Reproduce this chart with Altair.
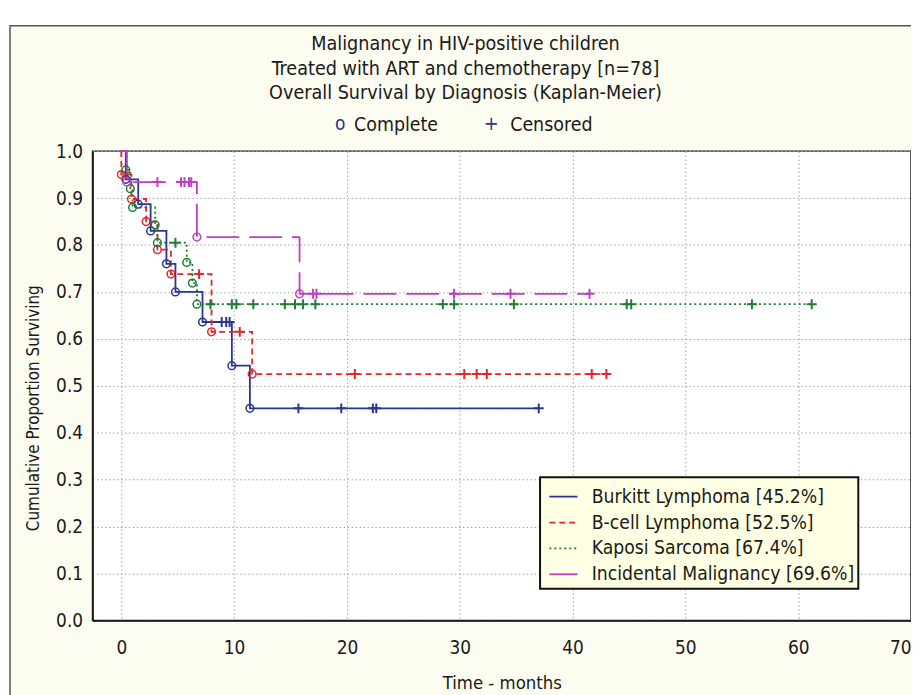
import altair as alt
import pandas as pd

# ---------------- data ----------------
series_names = ["Burkitt Lymphoma [45.2%]", "B-cell Lymphoma [52.5%]",
                "Kaposi Sarcoma [67.4%]", "Incidental Malignancy [69.6%]"]
series_colors = ["#2b3691", "#e3262b", "#1f7d33", "#c23ec0"]
series_dashes = [[1, 0], [6, 4], [2, 3], [33, 10]]

title_lines = ["Malignancy in HIV-positive children",
               "Treated with ART and chemotherapy [n=78]",
               "Overall Survival by Diagnosis (Kaplan-Meier)"]
key_labels = ["Complete", "Censored"]
key_symbols = ["o", "+"]

x_ticks = [0, 10, 20, 30, 40, 50, 60, 70]
y_ticks = [0.0, 0.1, 0.2, 0.3, 0.4, 0.5, 0.6, 0.7, 0.8, 0.9, 1.0]

burkitt_event_t = [0.4, 1.5, 2.6, 4.0, 4.8, 7.2, 9.8, 11.4]
burkitt_event_s = [0.94, 0.887, 0.83, 0.76, 0.70, 0.636, 0.543, 0.452]
burkitt_cens_t = [8.9, 9.3, 9.6, 15.7, 19.5, 22.3, 22.6, 37.0]

bcell_event_t = [0.0, 0.9, 2.2, 3.2, 4.4, 8.0, 11.6]
bcell_event_s = [0.95, 0.898, 0.85, 0.79, 0.738, 0.615, 0.525]
bcell_cens_t = [6.9, 10.5, 20.7, 30.4, 31.5, 32.4, 41.7, 43.0]

kaposi_event_t = [0.4, 0.8, 1.0, 3.0, 3.2, 5.8, 6.3, 6.7]
kaposi_event_s = [0.96, 0.92, 0.88, 0.843, 0.805, 0.763, 0.719, 0.674]
kaposi_cens_t = [4.8, 7.9, 9.8, 10.2, 11.7, 14.5, 15.4, 16.1, 17.2,
                 28.5, 29.5, 34.8, 44.8, 45.2, 55.9, 61.2]

incid_event_t = [0.5, 6.7, 15.8]
incid_event_s = [0.934, 0.817, 0.696]
incid_cens_t = [3.2, 5.3, 5.6, 6.0, 6.2, 17.0, 17.3, 29.5, 34.5, 41.5]

series_data = [
    (series_names[0], burkitt_event_t, burkitt_event_s, burkitt_cens_t),
    (series_names[1], bcell_event_t, bcell_event_s, bcell_cens_t),
    (series_names[2], kaposi_event_t, kaposi_event_s, kaposi_cens_t),
    (series_names[3], incid_event_t, incid_event_s, incid_cens_t),
]

line_rows, event_rows, cens_rows = [], [], []
for name, et, es, ct in series_data:
    pts = [(0.0, 1.0)] + list(zip(et, es))
    if max(ct) > et[-1]:
        pts.append((max(ct), es[-1]))
    for i, (t, s) in enumerate(pts):
        line_rows.append({"series": name, "t": t, "s": s, "idx": i})
    for t, s in zip(et, es):
        event_rows.append({"series": name, "t": t, "s": s})
    for c in ct:
        lvl = 1.0
        for t, s in zip(et, es):
            if t <= c:
                lvl = s
        cens_rows.append({"series": name, "t": c, "s": lvl})

lines_df = pd.DataFrame(line_rows)
events_df = pd.DataFrame(event_rows)
cens_df = pd.DataFrame(cens_rows)

# ---------------- styling ----------------
NARROW = "Liberation Sans Narrow, Arial Narrow, DejaVu Sans Condensed, Liberation Sans, sans-serif"
TXT = "#1a1a1a"
W, H = 823, 472

xs = alt.Scale(domain=[-2.55, 70], nice=False, zero=False)
ys = alt.Scale(domain=[0, 1], nice=False)
cs = alt.Scale(domain=series_names, range=series_colors)
ds = alt.Scale(domain=series_names, range=series_dashes)

x_enc = alt.X("t:Q", scale=xs, axis=alt.Axis(
    values=x_ticks, title="Time - months", grid=True, ticks=False,
    labelPadding=18, titlePadding=16, format="d", titleFontSize=18.5))
y_enc = alt.Y("s:Q", scale=ys, axis=alt.Axis(
    values=y_ticks, title="Cumulative Proportion Surviving", grid=True,
    ticks=False, labelPadding=10, titlePadding=13, format=".1f", titleFontSize=17,
    titleY=258))

lines = alt.Chart(lines_df).mark_line(interpolate="step-after", strokeWidth=1.8).encode(
    x=x_enc, y=y_enc,
    color=alt.Color("series:N", scale=cs, legend=alt.Legend(title=None)),
    strokeDash=alt.StrokeDash("series:N", scale=ds, legend=alt.Legend(title=None)),
    order="idx:Q",
)

circles = alt.Chart(events_df).mark_point(shape="circle", filled=False, size=60,
                                           strokeWidth=1.5, opacity=1).encode(
    x=x_enc, y=y_enc, color=alt.Color("series:N", scale=cs, legend=None))

pluses = alt.Chart(cens_df).mark_point(shape="M-1,0L1,0M0,-1L0,1", filled=False, size=100,
                                        strokeWidth=2, opacity=1).encode(
    x=x_enc, y=y_enc, color=alt.Color("series:N", scale=cs, legend=None))

one = pd.DataFrame({"a": [0]})
deco = []
# white margin strip above and left of the outer frame
deco.append(alt.Chart(one).mark_rect(color="white").encode(
    x=alt.value(-90), x2=alt.value(840), y=alt.value(-150), y2=alt.value(-126)))
deco.append(alt.Chart(one).mark_rect(color="white").encode(
    x=alt.value(-90), x2=alt.value(-83), y=alt.value(-150), y2=alt.value(720)))
# outer frame
deco.append(alt.Chart(one).mark_rect(filled=False, stroke="#555555", strokeWidth=1.5).encode(
    x=alt.value(-83), x2=alt.value(860), y=alt.value(-126), y2=alt.value(740)))

# titles
for i, line in enumerate(title_lines):
    deco.append(alt.Chart(one).mark_text(font=NARROW, fontSize=19.7, color=TXT,
                                         align="center", baseline="middle", text=line).encode(
        x=alt.value(375), y=alt.value(-108 + 25 * i)))
# Complete / Censored key
deco.append(alt.Chart(one).mark_text(font=NARROW, fontSize=19, color="#2b3691",
                                     align="center", baseline="middle", text=key_symbols[0]).encode(
    x=alt.value(249), y=alt.value(-27)))
deco.append(alt.Chart(one).mark_text(font=NARROW, fontSize=19.5, color=TXT,
                                     align="left", baseline="middle", text=key_labels[0]).encode(
    x=alt.value(263), y=alt.value(-26)))
deco.append(alt.Chart(one).mark_text(font=NARROW, fontSize=20, color="#2b3691",
                                     align="center", baseline="middle", text=key_symbols[1]).encode(
    x=alt.value(401), y=alt.value(-27)))
deco.append(alt.Chart(one).mark_text(font=NARROW, fontSize=19.5, color=TXT,
                                     align="left", baseline="middle", text=key_labels[1]).encode(
    x=alt.value(420), y=alt.value(-26)))

chart = alt.layer(lines, circles, pluses, *deco).properties(
    width=W, height=H,
    autosize=alt.AutoSizeParams(type="none"),
    padding={"left": 85, "top": 142, "right": 0, "bottom": 80},
    background="#fdfcf0",
).configure_view(
    fill="white", stroke="#222222", strokeWidth=1.5,
).configure_axis(
    labelFont=NARROW, labelFontSize=19, labelColor=TXT,
    titleFont=NARROW, titleColor=TXT, titleFontWeight="normal",
    domainColor="#111111", domainWidth=1.5,
    gridColor="#a0a0a0", gridDash=[1.5, 2.5], gridWidth=1,
).configure_legend(
    orient="none", legendX=450, legendY=328,
    fillColor="#ffffe3", strokeColor="#111111", strokeWidth=2,
    padding=4, symbolOffset=4, symbolType="stroke", symbolSize=800, symbolStrokeWidth=1.8,
    labelFont=NARROW, labelFontSize=19.3, labelColor=TXT, labelOffset=13, labelLimit=400,
    rowPadding=-2,
)

chart.save("out.html", embed_options={"renderer": "svg", "actions": False})
